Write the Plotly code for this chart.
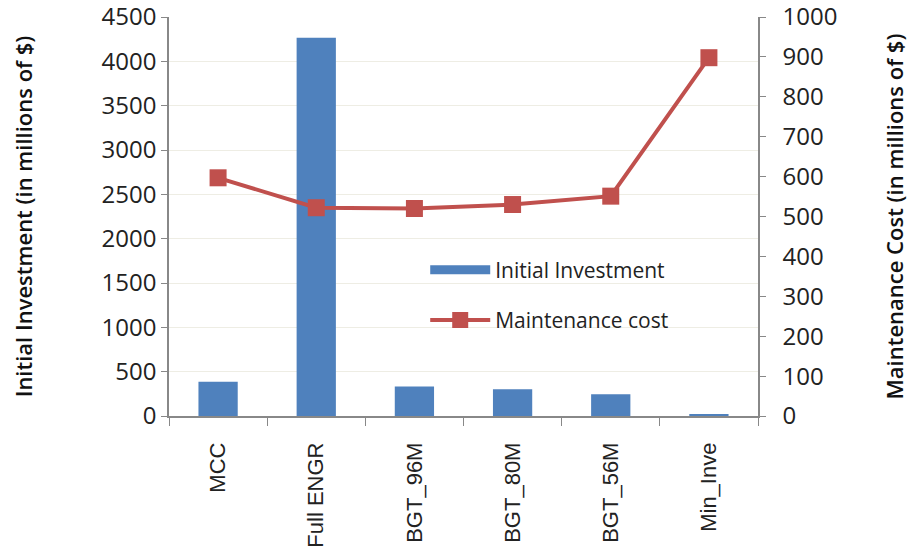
import plotly.graph_objects as go

categories = ["MCC", "Full ENGR", "BGT_96M", "BGT_80M", "BGT_56M", "Min_Inve"]
initial_investment = [387, 4265, 333, 303, 246, 19]
maintenance_cost = [597, 522, 520, 530, 551, 898]

BLUE = "#4F81BD"
RED = "#C0504D"
tick_font = "'Open Sans', sans-serif"

fig = go.Figure()
fig.add_trace(go.Bar(
    x=categories, y=initial_investment, name="Initial Investment",
    marker=dict(color=BLUE, line=dict(width=0)), width=0.4,
    showlegend=False,
))
# legend entry drawn as a wide swatch like the original
fig.add_trace(go.Scatter(
    x=[None], y=[None], name="Initial Investment", mode="lines",
    line=dict(color=BLUE, width=9), legendgroup="a",
))
fig.add_trace(go.Scatter(
    x=categories, y=maintenance_cost, name="Maintenance cost", yaxis="y2",
    mode="lines+markers",
    line=dict(color=RED, width=4),
    marker=dict(symbol="square", size=17, color=RED),
    legendgroup="b",
))

fig.update_layout(
    width=909, height=550,
    margin=dict(l=169, r=151, t=17, b=134),
    paper_bgcolor="white", plot_bgcolor="white",
    font=dict(family=tick_font, size=24, color="#222"),
    showlegend=True,
    legend=dict(x=0.435, y=0.303, xanchor="left", yanchor="middle",
                bgcolor="rgba(0,0,0,0)", font=dict(size=21, color="#222"),
                tracegroupgap=20, itemwidth=60),
    xaxis=dict(
        type="category", showline=True, linecolor="#888888", linewidth=1.5,
        ticks="outside", tickson="boundaries", ticklen=8, tickcolor="#888888",
        tickangle=-90, tickfont=dict(family="Arial, 'Liberation Sans'", size=22, color="#222"),
        ticklabelstandoff=16,
        showgrid=False, range=[-0.5, 5.5], automargin=False,
    ),
    yaxis=dict(
        range=[0, 4500], dtick=500, showline=True, linecolor="#888888", linewidth=1.5,
        ticks="outside", ticklen=6, tickcolor="#888888",
        showgrid=True, gridcolor="#EEEDE4", gridwidth=1, zeroline=False,
        automargin=False, ticklabeloverflow="allow",
        title=dict(text="Initial Investment (in millions of $)", standoff=63,
                   font=dict(size=22, color="#111", weight=600)),
        tickfont=dict(size=24),
    ),
    yaxis2=dict(
        range=[0, 1000], dtick=100, overlaying="y", side="right",
        showline=True, linecolor="#888888", linewidth=1.5,
        ticks="outside", ticklen=6, tickcolor="#888888",
        showgrid=False, zeroline=False, automargin=False,
        ticklabelstandoff=12, ticklabeloverflow="allow",
        title=dict(text="Maintenance Cost (in millions of $)", standoff=57,
                   font=dict(size=22, color="#111", weight=600)),
        tickfont=dict(size=24),
    ),
)

fig.write_html("out.html", config={"displayModeBar": False},
               post_script="document.body.style.margin='0';")
